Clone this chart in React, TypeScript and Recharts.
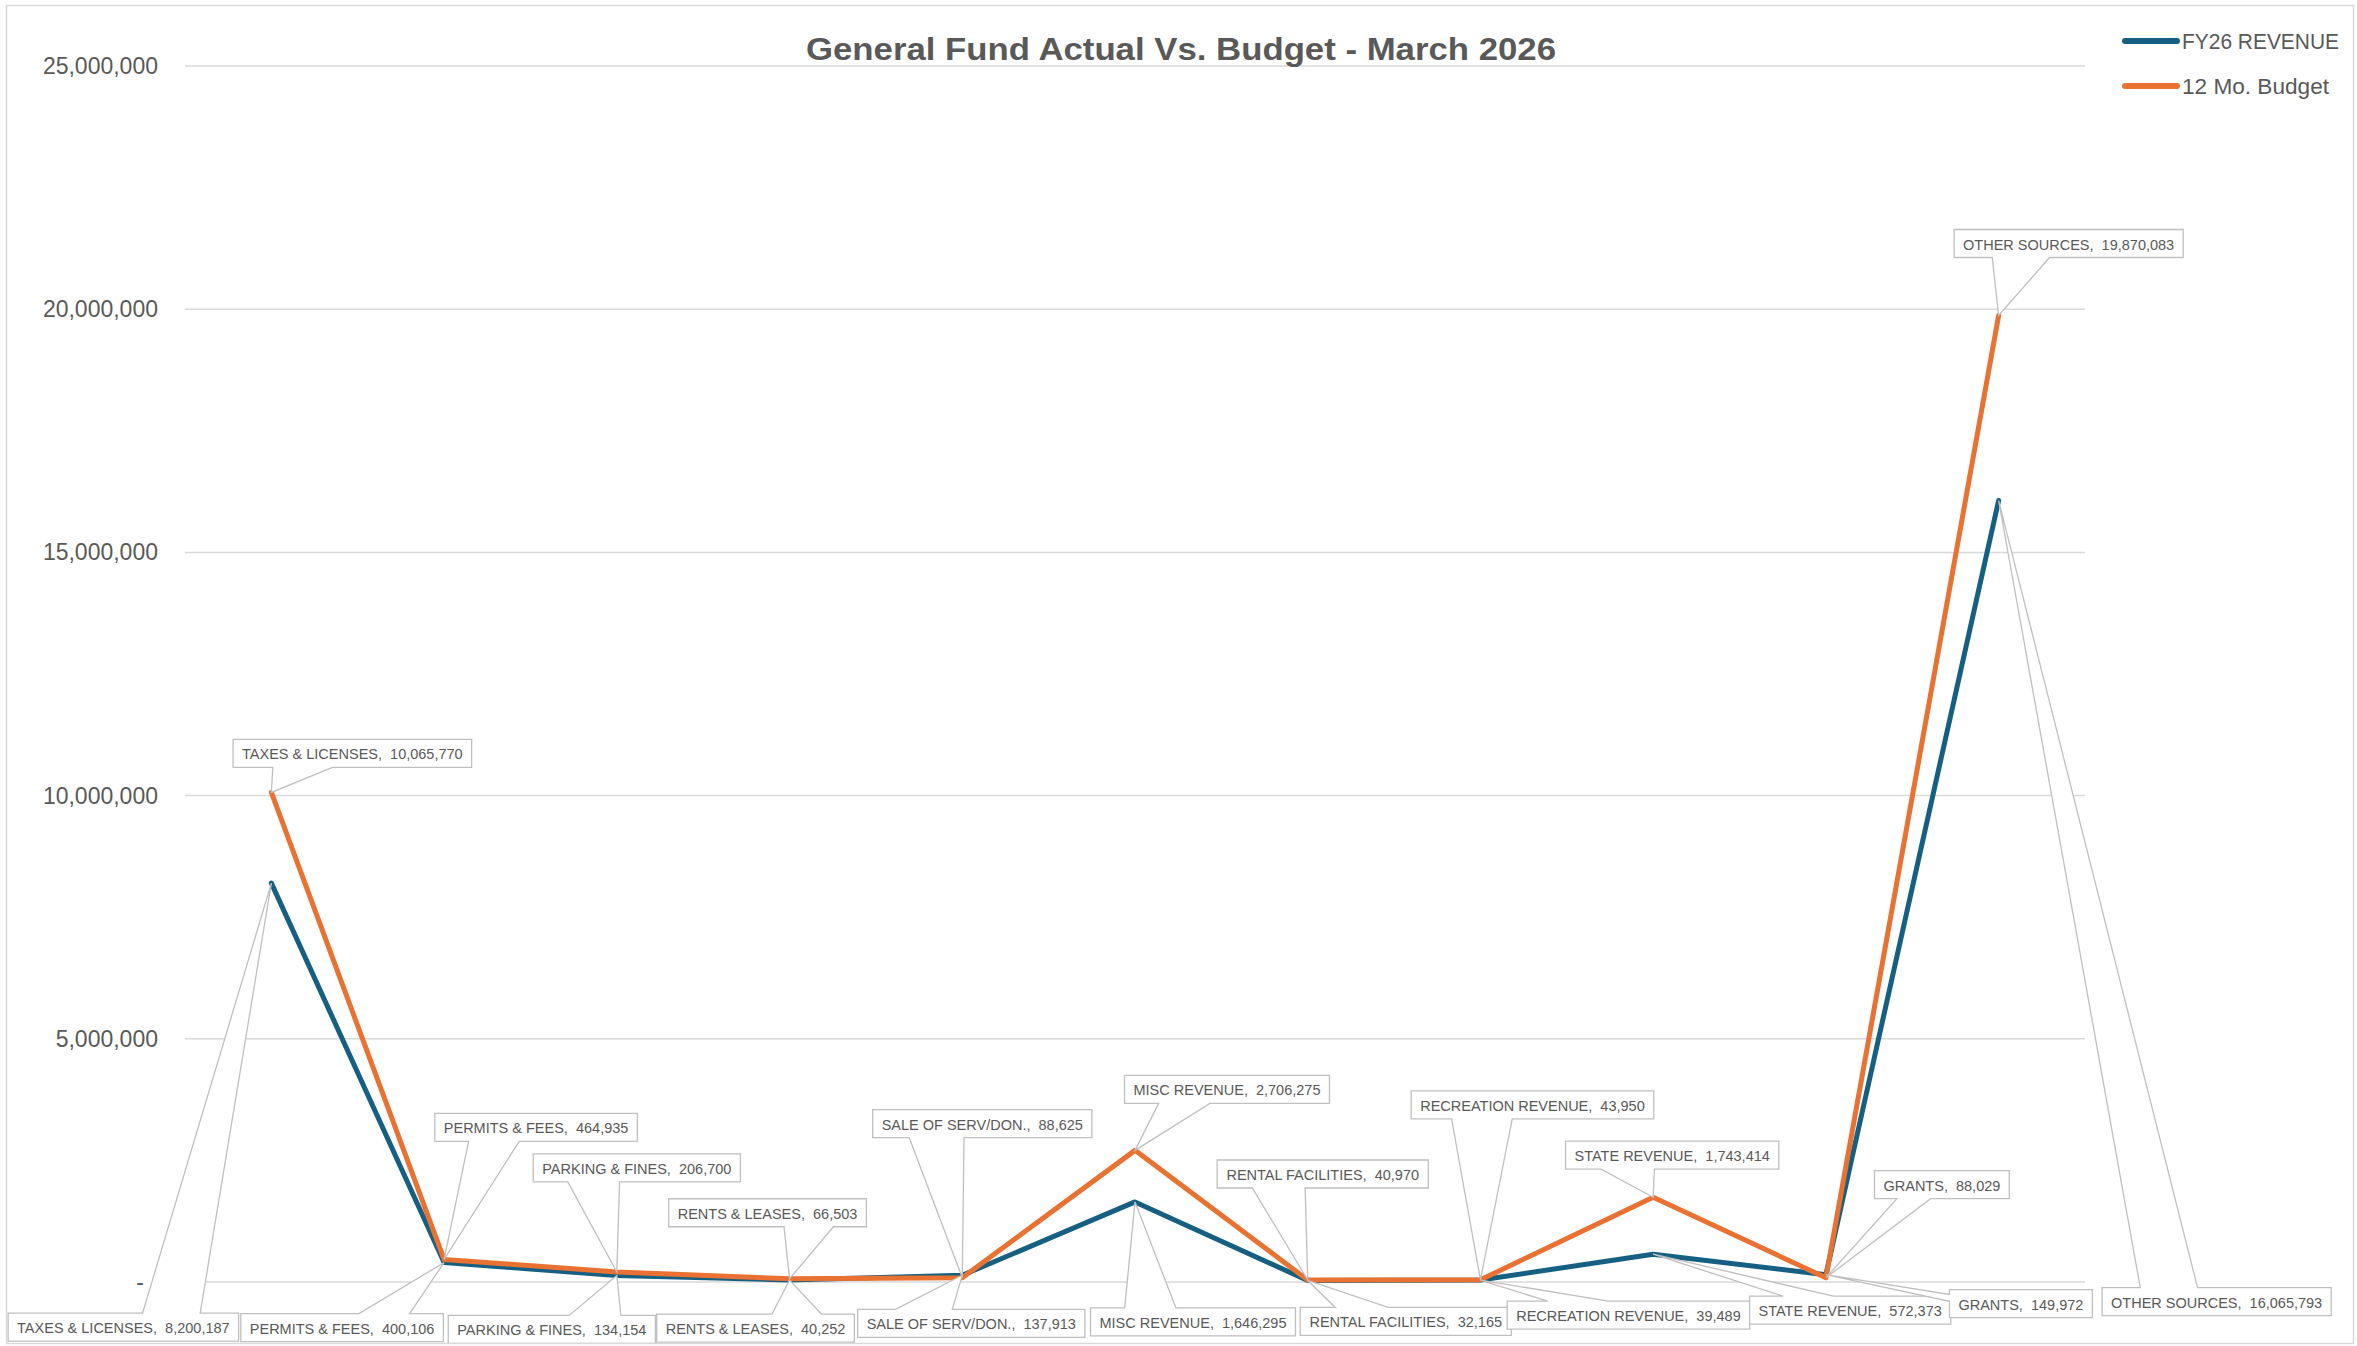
import React from 'react';
import { ComposedChart, Line, XAxis, YAxis, CartesianGrid } from 'recharts';

// ---------- data ----------
const categories = [
  'TAXES & LICENSES',
  'PERMITS & FEES',
  'PARKING & FINES',
  'RENTS & LEASES',
  'SALE OF SERV/DON.',
  'MISC REVENUE',
  'RENTAL FACILITIES',
  'RECREATION REVENUE',
  'STATE REVENUE',
  'GRANTS',
  'OTHER SOURCES',
];
const fy26Revenue = [8200187, 400106, 134154, 40252, 137913, 1646295, 32165, 39489, 572373, 149972, 16065793];
const budget12Mo = [10065770, 464935, 206700, 66503, 88625, 2706275, 40970, 43950, 1743414, 88029, 19870083];
const yTicks = [0, 5000000, 10000000, 15000000, 20000000, 25000000];
const seriesNames = ['FY26 REVENUE', '12 Mo. Budget'];
const chartTitle = 'General Fund Actual Vs. Budget - March 2026';

// ---------- layout (callout box centre offsets from the point, px) ----------
const budgetCalloutOffsets: [number, number][] = [
  [81, -39], [92, -132], [20, -104], [-22, -66], [20, -154], [92, -61],
  [15, -106], [52, -175], [19, -42], [116, -93], [70, -72],
];
const revenueCalloutOffsets: [number, number][] = [
  [-148, 444], [-102, 65], [-65, 54], [-34, 48], [9, 48], [58, 120],
  [98, 41], [148, 35], [197, 56], [195, 29], [218, 801],
];

const BLUE = '#156082';
const ORANGE = '#E97132';
const TEXT = '#595959';
const GRID = '#d9d9d9';
const FONT = "'Liberation Sans', Arial, sans-serif";

const data = categories.map((name, i) => ({ name, fy26: fy26Revenue[i], budget: budget12Mo[i] }));

const fmt = (v: number) => v.toLocaleString('en-US');

let measureCtx: CanvasRenderingContext2D | null = null;
function measure(text: string, font: string): number {
  if (!measureCtx) {
    const c = document.createElement('canvas');
    measureCtx = c.getContext('2d');
  }
  if (!measureCtx) return text.length * 8;
  measureCtx.font = font;
  return measureCtx.measureText(text).width;
}

function wedgePath(l: number, t: number, w: number, h: number, px: number, py: number): string {
  const r = l + w;
  const b = t + h;
  const cx = l + w / 2;
  const cy = t + h / 2;
  const dxp = px - cx;
  const dyp = py - cy;
  const dq = (dxp * h) / w;
  const dz = Math.abs(dyp) - Math.abs(dq);
  if (dz > 0) {
    const x1 = l + (w * (dxp > 0 ? 7 : 2)) / 12;
    const x2 = l + (w * (dxp > 0 ? 10 : 5)) / 12;
    if (dyp < 0) {
      return `M${l},${t} L${x1},${t} L${px},${py} L${x2},${t} L${r},${t} L${r},${b} L${l},${b} Z`;
    }
    return `M${l},${t} L${r},${t} L${r},${b} L${x2},${b} L${px},${py} L${x1},${b} L${l},${b} Z`;
  }
  const y1 = t + (h * (dyp > 0 ? 7 : 2)) / 12;
  const y2 = t + (h * (dyp > 0 ? 10 : 5)) / 12;
  if (dxp < 0) {
    return `M${l},${t} L${r},${t} L${r},${b} L${l},${b} L${l},${y2} L${px},${py} L${l},${y1} Z`;
  }
  return `M${l},${t} L${r},${t} L${r},${y1} L${px},${py} L${r},${y2} L${r},${b} L${l},${b} Z`;
}

function Callout(props: any) {
  const { x, y, value, index, offsets } = props;
  if (x == null || y == null || index == null) return null;
  const text = `${categories[index]},  ${fmt(Number(value))}`;
  const fontSize = 14.5;
  const w = measure(text, `${fontSize}px ${FONT}`) + 18;
  const h = 28;
  const [dx, dy] = offsets[index];
  const cx = x + dx;
  const cy = y + dy;
  const l = cx - w / 2;
  const t = cy - h / 2;
  return (
    <g>
      <path d={wedgePath(l, t, w, h, x, y)} fill="#ffffff" stroke="#bfbfbf" strokeWidth={1.3} />
      <text
        x={cx}
        y={cy + 1}
        textAnchor="middle"
        dominantBaseline="central"
        fontSize={fontSize}
        fontFamily={FONT}
        fill={TEXT}
        style={{ whiteSpace: 'pre' }}
      >
        {text}
      </text>
    </g>
  );
}

function YTick(props: any) {
  const { x, y, payload } = props;
  const v = Number(payload.value);
  const label = v === 0 ? '-' : fmt(v);
  return (
    <text
      x={v === 0 ? x - 14 : x}
      y={y}
      textAnchor="end"
      dominantBaseline="central"
      fontSize={23}
      fontFamily={FONT}
      fill={TEXT}
    >
      {label}
    </text>
  );
}

export default function App() {
  return (
    <div
      style={{
        position: 'absolute',
        left: 0,
        top: 0,
        width: 2357,
        height: 1346,
        background: '#ffffff',
        overflow: 'hidden',
      }}
    >
      <ComposedChart
        width={2357}
        height={1346}
        data={data}
        margin={{ top: 66, right: 272, bottom: 64, left: 85 }}
      >
        <CartesianGrid horizontal vertical={false} stroke={GRID} strokeWidth={1.5} />
        <XAxis dataKey="name" type="category" scale="band" hide />
        <YAxis
          type="number"
          domain={[0, 25000000]}
          ticks={yTicks}
          width={100}
          axisLine={false}
          tickLine={false}
          tickSize={0}
          tickMargin={27}
          tick={<YTick />}
          interval={0}
        />
        <Line
          type="linear"
          dataKey="fy26"
          name={seriesNames[0]}
          stroke={BLUE}
          strokeWidth={5}
          strokeLinejoin="round"
          strokeLinecap="round"
          dot={false}
          activeDot={false}
          isAnimationActive={false}
          label={(p: any) => <Callout {...p} offsets={revenueCalloutOffsets} />}
        />
        <Line
          type="linear"
          dataKey="budget"
          name={seriesNames[1]}
          stroke={ORANGE}
          strokeWidth={5}
          strokeLinejoin="round"
          strokeLinecap="round"
          dot={false}
          activeDot={false}
          isAnimationActive={false}
          label={(p: any) => <Callout {...p} offsets={budgetCalloutOffsets} />}
        />
      </ComposedChart>
      <svg
        width={2357}
        height={1346}
        style={{ position: 'absolute', left: 0, top: 0, pointerEvents: 'none' }}
      >
        <rect x={6.5} y={5.5} width={2347} height={1338} fill="none" stroke={GRID} strokeWidth={1.5} />
        <text
          x={1181}
          y={60}
          textAnchor="middle"
          fontSize={31}
          fontWeight="bold"
          fontFamily={FONT}
          fill={TEXT}
          textLength={750}
          lengthAdjust="spacingAndGlyphs"
        >
          {chartTitle}
        </text>
        <line x1={2125} x2={2177} y1={41} y2={41} stroke={BLUE} strokeWidth={6} strokeLinecap="round" />
        <text
          x={2182}
          y={41}
          dominantBaseline="central"
          fontSize={22}
          fontFamily={"'Liberation Sans Narrow', " + FONT}
          fill={TEXT}
          textLength={157}
          lengthAdjust="spacingAndGlyphs"
        >
          {seriesNames[0]}
        </text>
        <line x1={2125} x2={2177} y1={86} y2={86} stroke={ORANGE} strokeWidth={6} strokeLinecap="round" />
        <text
          x={2182}
          y={86}
          dominantBaseline="central"
          fontSize={22}
          fontFamily={"'Liberation Sans Narrow', " + FONT}
          fill={TEXT}
          textLength={147}
          lengthAdjust="spacingAndGlyphs"
        >
          {seriesNames[1]}
        </text>
      </svg>
    </div>
  );
}
